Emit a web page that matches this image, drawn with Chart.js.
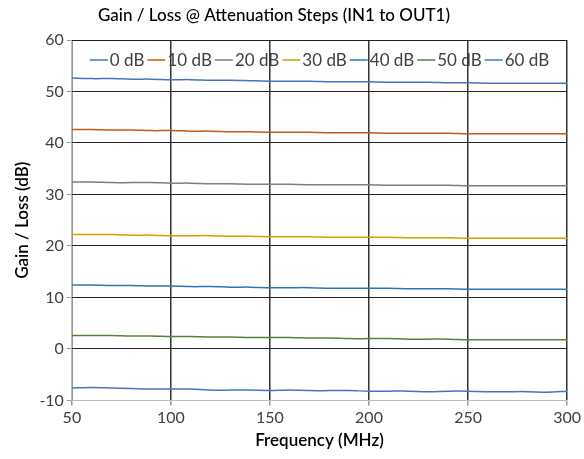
<!DOCTYPE html>
<html>
<head>
<meta charset="utf-8">
<script src="https://cdn.jsdelivr.net/npm/chart.js@4/dist/chart.umd.min.js"></script>
<style>
  html, body { margin: 0; padding: 0; background: #fff; }
  #wrap { width: 584px; height: 459px; }
</style>
</head>
<body>
<div id="wrap"><canvas id="chart-gain"></canvas></div>
<script>
const font_family = 'Lato, "Noto Sans", sans-serif'
const tick_color = '#404040'
const title_text = 'Gain / Loss @ Attenuation Steps (IN1 to OUT1)'

// frequency points (MHz)
const freq = [50, 60, 70, 80, 90, 100, 110, 120, 130, 140, 150, 160, 170, 180, 190,
    200, 210, 220, 230, 240, 250, 260, 270, 280, 290, 300]

const series_labels = ['0 dB', '10 dB', '20 dB', '30 dB', '40 dB', '50 dB', '60 dB']
const series_colors = ['#4472C4', '#C55A11', '#7F7F7F', '#D4A000', '#2E75B6', '#548235', '#4472C4']

// gain / loss values (dB)
const att_0 = [52.6, 52.5, 52.5, 52.4, 52.4, 52.3, 52.3, 52.2, 52.2, 52.1, 52.0, 52.0, 52.0, 51.9, 51.9,
    51.9, 51.8, 51.8, 51.8, 51.7, 51.7, 51.6, 51.6, 51.6, 51.6, 51.6]
const att_10 = [42.6, 42.6, 42.5, 42.5, 42.4, 42.4, 42.3, 42.3, 42.2, 42.2, 42.1, 42.1, 42.1, 42.0, 42.0,
    42.0, 41.9, 41.9, 41.9, 41.9, 41.8, 41.8, 41.8, 41.8, 41.8, 41.8]
const att_20 = [32.4, 32.4, 32.3, 32.3, 32.3, 32.2, 32.2, 32.1, 32.1, 32.0, 32.0, 32.0, 31.9, 31.9, 31.9,
    31.9, 31.8, 31.8, 31.8, 31.8, 31.7, 31.7, 31.7, 31.7, 31.7, 31.7]
const att_30 = [22.2, 22.2, 22.2, 22.1, 22.1, 22.0, 22.0, 22.0, 21.9, 21.9, 21.8, 21.8, 21.8, 21.7, 21.7,
    21.7, 21.7, 21.6, 21.6, 21.6, 21.5, 21.5, 21.5, 21.5, 21.5, 21.5]
const att_40 = [12.4, 12.4, 12.3, 12.3, 12.2, 12.2, 12.1, 12.1, 12.0, 12.0, 11.9, 11.9, 11.9, 11.8, 11.8,
    11.8, 11.8, 11.7, 11.7, 11.7, 11.6, 11.6, 11.6, 11.6, 11.6, 11.6]
const att_50 = [2.6, 2.6, 2.6, 2.5, 2.5, 2.4, 2.4, 2.3, 2.3, 2.2, 2.2, 2.2, 2.1, 2.1, 2.0,
    2.0, 2.0, 1.9, 1.9, 1.9, 1.8, 1.8, 1.8, 1.8, 1.8, 1.8]
const att_60 = [-7.6, -7.5, -7.6, -7.7, -7.8, -7.8, -7.8, -8.0, -8.0, -8.0, -8.1, -8.0, -8.1, -8.1, -8.1,
    -8.2, -8.2, -8.2, -8.3, -8.2, -8.2, -8.3, -8.3, -8.3, -8.4, -8.2]

const series_values = [att_0, att_10, att_20, att_30, att_40, att_50, att_60]

// title + legend drawn by hand: excel puts the legend inside the plot, one row
const overlay_plugin = {
    id: 'overlay',
    afterDraw(chart) {
        const ctx = chart.ctx
        const area = chart.chartArea
        ctx.save()

        ctx.font = '500 17px ' + font_family
        ctx.fillStyle = '#000'
        ctx.textAlign = 'center'
        ctx.textBaseline = 'middle'
        ctx.fillText(title_text, 274, 16)

        ctx.font = '17px ' + font_family
        ctx.textAlign = 'left'
        const line_w = 18
        const gap = 2
        const item_gap = 3
        const items = chart.data.datasets.map(ds => ({
            label: ds.label,
            color: ds.borderColor,
            w: line_w + gap + ctx.measureText(ds.label).width
        }))
        const total = items.reduce((s, it) => s + it.w, 0) + item_gap * (items.length - 1)
        let x = (area.left + area.right) / 2 - total / 2
        const y = area.top + 20
        items.forEach(it => {
            ctx.strokeStyle = it.color
            ctx.lineWidth = 1.5
            ctx.beginPath()
            ctx.moveTo(x, y)
            ctx.lineTo(x + line_w, y)
            ctx.stroke()
            ctx.fillStyle = tick_color
            ctx.fillText(it.label, x + line_w + gap, y + 1)
            x += it.w + item_gap
        })
        ctx.restore()
    }
}

function gain_chart() {
    const datasets = series_labels.map((label, i) => ({
        label: label,
        data: freq.map((f, j) => ({ x: f, y: series_values[i][j] })),
        borderColor: series_colors[i],
        backgroundColor: series_colors[i],
        borderWidth: 1.5,
        pointRadius: 0,
        tension: 0.3
    }))

    const chart_config = {
        responsive: true,
        maintainAspectRatio: false,
        animation: false,
        layout: {
            padding: { left: 8, right: 14, top: 40, bottom: 4 }
        },
        plugins: {
            title: { display: false },
            legend: { display: false },
            tooltip: { enabled: false }
        },
        scales: {
            x: {
                type: 'linear',
                min: 50,
                max: 300,
                ticks: {
                    stepSize: 50,
                    font: { size: 16, family: font_family },
                    color: tick_color
                },
                grid: {
                    color: '#333',
                    lineWidth: 1.5,
                    tickLength: 5,
                    tickColor: '#999'
                },
                border: { color: '#bbb' },
                title: {
                    display: true,
                    text: 'Frequency (MHz)',
                    font: { size: 17, family: font_family, weight: '600' },
                    color: '#000',
                    padding: { top: 0 }
                }
            },
            y: {
                min: -10,
                max: 60,
                ticks: {
                    stepSize: 10,
                    font: { size: 16, family: font_family },
                    color: tick_color
                },
                grid: {
                    color: '#222',
                    lineWidth: 1,
                    tickLength: 5,
                    tickColor: '#999'
                },
                border: { color: '#bbb' },
                title: {
                    display: true,
                    text: 'Gain / Loss (dB)',
                    font: { size: 17, family: font_family, weight: '600' },
                    color: '#000'
                }
            }
        }
    }

    const chart = new Chart('chart-gain', {
        type: 'line',
        data: { datasets: datasets },
        options: chart_config,
        plugins: [overlay_plugin]
    })
}

gain_chart()
</script>
</body>
</html>
